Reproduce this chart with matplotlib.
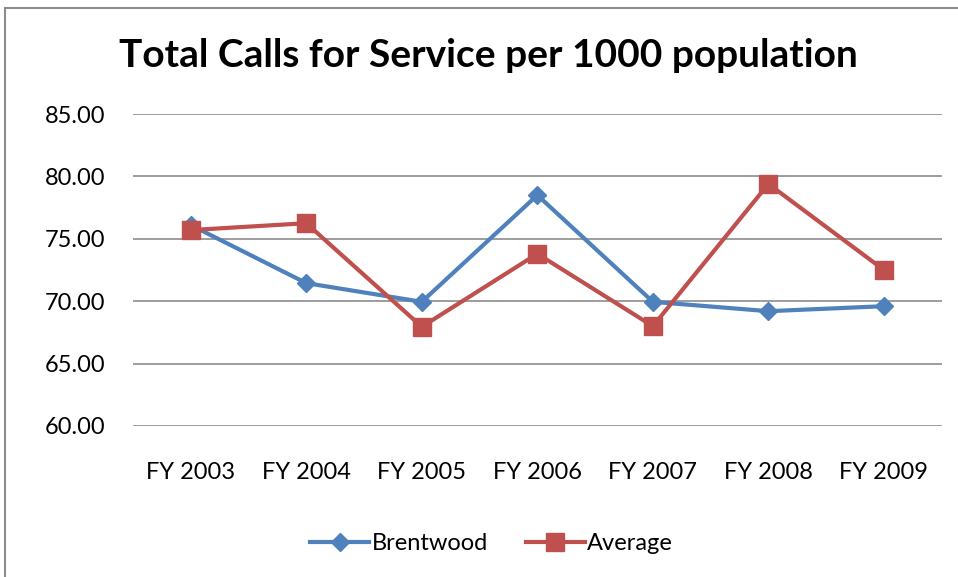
import matplotlib
matplotlib.use('Agg')
import matplotlib.pyplot as plt
from matplotlib.patches import Rectangle

plt.rcParams['font.family'] = ['Lato', 'DejaVu Sans']

years = ['FY 2003', 'FY 2004', 'FY 2005', 'FY 2006', 'FY 2007', 'FY 2008', 'FY 2009']
brentwood = [76.1, 71.45, 69.95, 78.5, 69.95, 69.2, 69.6]
average = [75.7, 76.25, 67.95, 73.8, 68.0, 79.4, 72.5]
yticks = [60, 65, 70, 75, 80, 85]

blue = '#4F81BD'
red = '#C0504D'

fig = plt.figure(figsize=(9.58, 5.77), dpi=100)
# outer chart border
fig.patches.append(Rectangle((5/958, -0.1), 1.2, 1 - 8/577 + 0.1, transform=fig.transFigure,
                             fill=False, edgecolor='#8c8c8c', linewidth=1.5))

ax = fig.add_axes([0.1388, 0.2617, 0.8442, 0.5407])
x = list(range(len(years)))
ax.plot(x, brentwood, color=blue, lw=3, marker='D', ms=9, label='Brentwood', zorder=3)
ax.plot(x, average, color=red, lw=3, marker='s', ms=13, label='Average', zorder=3)

ax.set_xlim(-0.5, len(years) - 0.5)
ax.set_ylim(60, 85)
ax.set_yticks(yticks)
ax.set_yticklabels(['%.2f' % v for v in yticks], fontsize=17)
ax.set_xticks(x)
ax.set_xticklabels(years, fontsize=17)
ax.tick_params(axis='x', length=0, pad=26)
ax.tick_params(axis='y', length=0, pad=20)
ax.grid(axis='y', color='#8c8c8c', lw=1.2)
ax.set_axisbelow(True)
for s in ax.spines.values():
    s.set_visible(False)

fig.text(0.51, 0.903, 'Total Calls for Service per 1000 population', ha='center', va='center',
         fontsize=28, fontweight='bold')

fig.legend(loc='center', bbox_to_anchor=(0.513, 0.058), ncol=2, frameon=False, fontsize=17,
           handlelength=2.5, handletextpad=0.1, columnspacing=1.6)

fig.savefig('out.png', dpi=100)
